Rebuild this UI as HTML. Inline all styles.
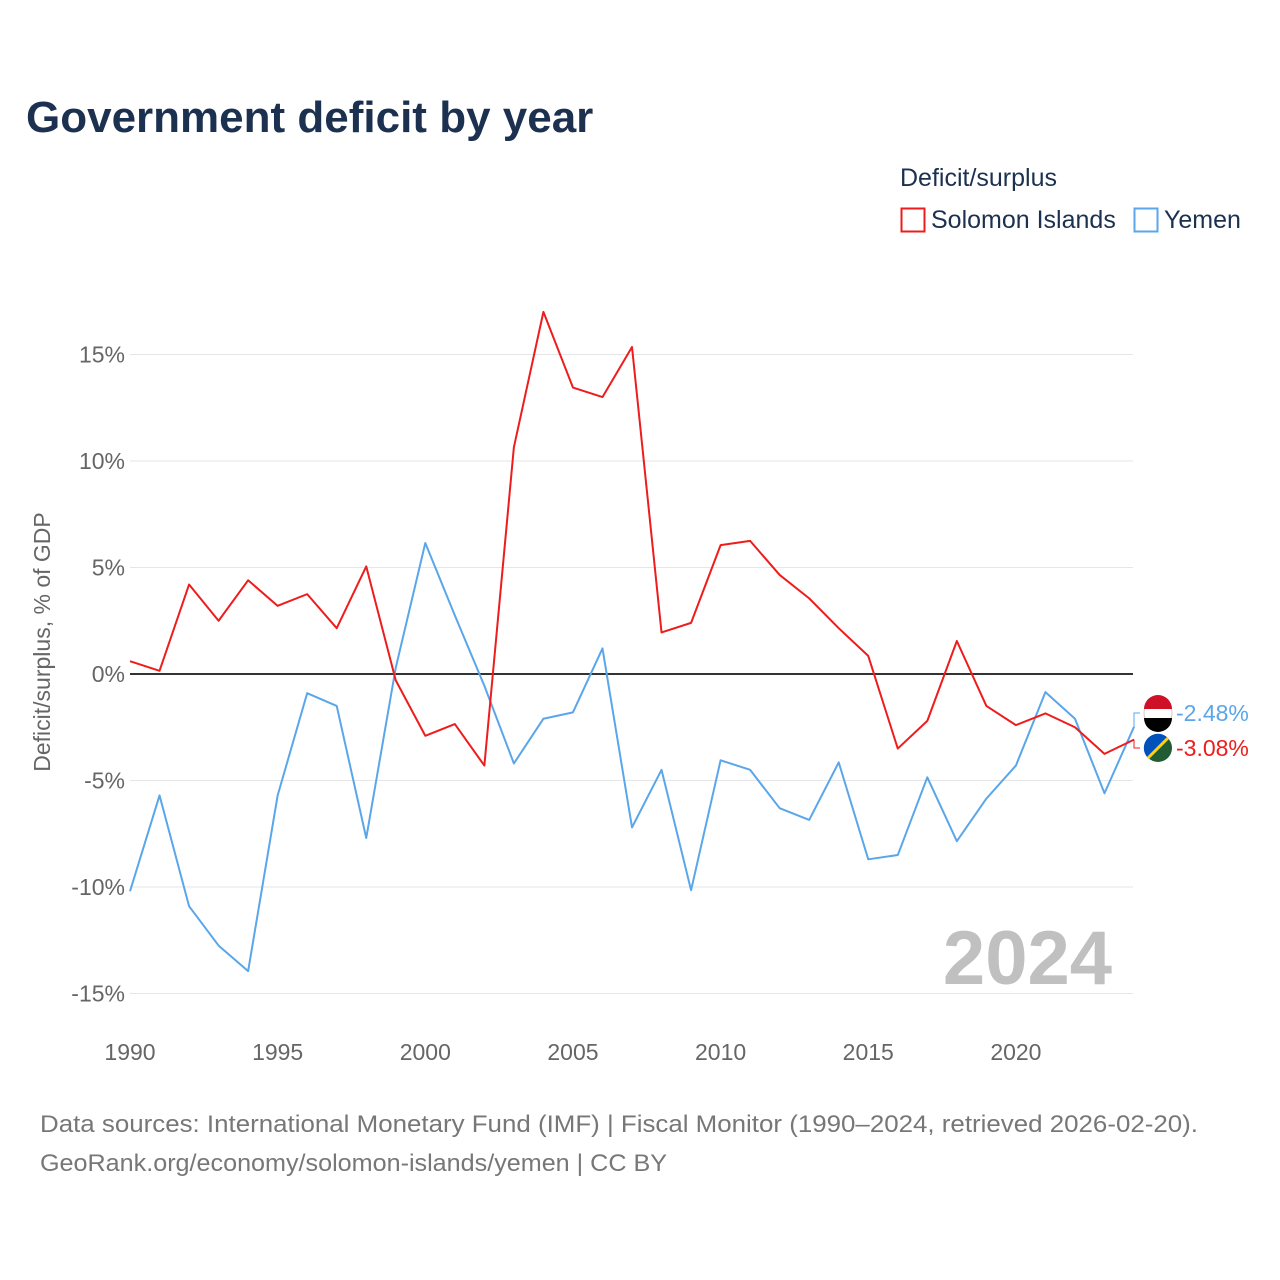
<!DOCTYPE html>
<html><head><meta charset="utf-8"><style>
body{margin:0;background:#fff;font-family:"Liberation Sans",sans-serif;}
svg{display:block}
</style></head><body>
<svg id="chart" width="1280" height="1280" viewBox="0 0 1280 1280">
<text x="26" y="132" font-size="44" font-weight="bold" fill="#1c3150">Government deficit by year</text>
<text x="900" y="186" font-size="25" fill="#1c3150">Deficit/surplus</text>
<g><rect x="901.5" y="208.5" width="23" height="23" fill="none" stroke="#ee1c1c" stroke-width="2"/><text x="931" y="228" font-size="25" fill="#1c3150">Solomon Islands</text></g>
<g><rect x="1134.5" y="208.5" width="23" height="23" fill="none" stroke="#5aa6ea" stroke-width="2"/><text x="1164" y="228" font-size="25" fill="#1c3150">Yemen</text></g>
<text transform="translate(50,642) rotate(-90)" text-anchor="middle" font-size="23" fill="#666">Deficit/surplus, % of GDP</text>
<text x="1112" y="984" text-anchor="end" font-size="76" font-weight="bold" fill="#c0c0c0">2024</text>
<g id="grid"></g><g id="lines"></g>
<text x="40" y="1132" font-size="24" fill="#777" textLength="1158" lengthAdjust="spacingAndGlyphs">Data sources: International Monetary Fund (IMF) | Fiscal Monitor (1990–2024, retrieved 2026-02-20).</text>
<text x="40" y="1171" font-size="24" fill="#777" textLength="627" lengthAdjust="spacingAndGlyphs">GeoRank.org/economy/solomon-islands/yemen | CC BY</text>
</svg>
<script>
const years=[];for(let y=1990;y<=2024;y++)years.push(y);
const solomon=[0.6,0.15,4.2,2.5,4.4,3.2,3.75,2.15,5.05,-0.3,-2.9,-2.35,-4.3,10.65,17.0,13.45,13.0,15.35,1.95,2.4,6.05,6.25,4.65,3.55,2.15,0.85,-3.5,-2.2,1.55,-1.5,-2.4,-1.85,-2.5,-3.75,-3.08];
const yemen=[-10.2,-5.7,-10.9,-12.75,-13.95,-5.7,-0.9,-1.5,-7.7,0.3,6.15,2.75,-0.55,-4.2,-2.1,-1.8,1.2,-7.2,-4.5,-10.15,-4.05,-4.5,-6.3,-6.85,-4.15,-8.7,-8.5,-4.85,-7.85,-5.85,-4.3,-0.85,-2.1,-5.6,-2.48];
const yTicks=[15,10,5,0,-5,-10,-15];
const xTicks=[1990,1995,2000,2005,2010,2015,2020];
const X=y=>130+(y-1990)*29.53;
const Y=v=>674-v*21.3;
const NS='http://www.w3.org/2000/svg';
function mk(tag,attrs,parent){const e=document.createElementNS(NS,tag);for(const k in attrs)e.setAttribute(k,attrs[k]);parent.appendChild(e);return e;}
const grid=document.getElementById('grid'),lines=document.getElementById('lines');
yTicks.forEach(t=>{
 const l=mk('line',{x1:130,x2:1133,y1:Y(t),y2:Y(t),stroke:t===0?'#333':'#e6e6e6','stroke-width':t===0?2:1},grid);
 
 
 const tx=mk('text',{x:125,y:Y(t)+8,'text-anchor':'end','font-size':23,fill:'#666'},grid);
 tx.textContent=t+'%';
 
 
});
xTicks.forEach(t=>{
 const tx=mk('text',{x:X(t),y:1060,'text-anchor':'middle','font-size':23,fill:'#666'},grid);
 tx.textContent=t;
 
 
});
function series(vals,color,name){
 const p=mk('polyline',{points:vals.map((v,i)=>X(years[i])+','+Y(v)).join(' '),fill:'none',stroke:color,'stroke-width':2,'stroke-linejoin':'round'},lines);
 
 
}
series(yemen,'#5aa6ea','yemen-line');
series(solomon,'#ee1c1c','solomon-line');
const lastY=yemen[yemen.length-1],lastS=solomon[solomon.length-1];
const lblY=713,lblS=748;
[[lastY,lblY,'#5aa6ea','yemen'],[lastS,lblS,'#ee1c1c','solomon']].forEach(([v,ly,c,n])=>{
 const pl=mk('polyline',{points:`${X(2024)},${Y(v)} ${X(2024)},${ly} 1140,${ly}`,fill:'none',stroke:c,'stroke-width':1},lines);
 
 
 const fl=mk('g',{},lines);
 
 
 if(n==='yemen'){
  mk('circle',{cx:1158,cy:ly,r:14,fill:'#fff',stroke:'#ccc'},fl);
  mk('path',{d:`M1144,${ly-4} A14,14 0 0 1 1172,${ly-4} Z`,fill:'#ce1126'},fl);
  mk('path',{d:`M1144,${ly+5} A14,14 0 0 0 1172,${ly+5} Z`,fill:'#000'},fl);
 }else{
  mk('circle',{cx:1158,cy:ly,r:14,fill:'#215b33'},fl);
  mk('path',{d:`M1148,${ly-10} A14,14 0 0 0 1148,${ly+10} L1168,${ly-10} A14,14 0 0 0 1148,${ly-10} Z`,fill:'#0051ba'},fl);
  mk('line',{x1:1148,y1:ly+10,x2:1168,y2:ly-10,stroke:'#fcd116','stroke-width':3},fl);
 }
 const t=mk('text',{x:1176,y:ly+8,'font-size':23,fill:c},lines);
 t.textContent=v.toFixed(2)+'%';
 
 
});
</script>
</body></html>
